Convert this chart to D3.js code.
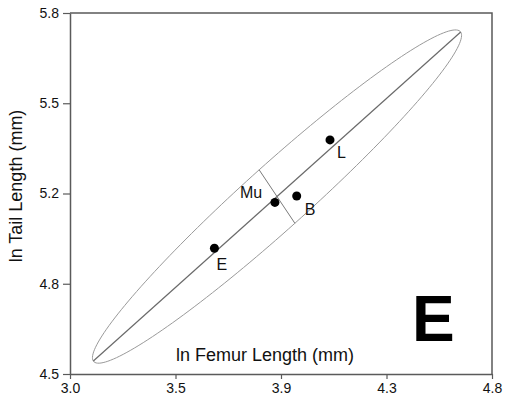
<!DOCTYPE html>
<html>
<head>
<meta charset="utf-8">
<script src="https://cdn.jsdelivr.net/npm/d3@7"></script>
<style>
  body { margin: 0; background: #fff; }
  svg { display: block; font-family: Arial, "Liberation Sans", sans-serif; }
</style>
</head>
<body>
<div id="chart"></div>
<script>
// Data
const groups = ['L', 'B', 'Mu', 'E'];
const femur = [4.109, 3.967, 3.874, 3.616];
const tail = [5.343, 5.141, 5.118, 4.953];

// Axis ticks
const xTickValues = [3.0, 3.45, 3.9, 4.35, 4.8];
const xTickLabels = ['3.0', '3.5', '3.9', '4.3', '4.8'];
const yTickValues = [4.5, 4.825, 5.15, 5.475, 5.8];
const yTickLabels = ['4.5', '4.8', '5.2', '5.5', '5.8'];

// Major axis line and ellipse (data units)
const lineStart = [3.0995, 4.547];
const lineEnd = [4.6665, 5.7316];
const ellipseCenter = [3.883, 5.139];
const ellipseMajor = [0.7835, 0.5923];
const ellipseMinor = [0.0762, -0.0962];

function createChart(containerId) {
  const container = d3.select(`#${containerId}`);
  container.html('');

  const width = 505;
  const height = 403;
  const margin = { top: 13, right: 13, bottom: 29, left: 70 };
  const w = width - margin.left - margin.right;
  const h = height - margin.top - margin.bottom;

  const x = d3.scaleLinear().domain([3.0, 4.8]).range([0, w]);
  const y = d3.scaleLinear().domain([4.5, 5.8]).range([h, 0]);

  const svg = container.append('svg')
    .attr('width', width)
    .attr('height', height);

  const g = svg.append('g')
    .attr('transform', `translate(${margin.left},${margin.top})`);

  const axisColor = '#5a5a5a';

  // Ellipse outline
  const steps = d3.range(0, 361, 2).map(a => a * Math.PI / 180);
  const ellipsePts = steps.map(t => [
    ellipseCenter[0] + ellipseMajor[0] * Math.cos(t) + ellipseMinor[0] * Math.sin(t),
    ellipseCenter[1] + ellipseMajor[1] * Math.cos(t) + ellipseMinor[1] * Math.sin(t)
  ]);
  g.append('path')
    .datum(ellipsePts)
    .attr('d', d3.line().x(d => x(d[0])).y(d => y(d[1])).curve(d3.curveCardinalClosed))
    .attr('fill', 'none')
    .attr('stroke', '#9a9a9a')
    .attr('stroke-width', 1);

  // Major axis
  g.append('line')
    .attr('x1', x(lineStart[0])).attr('y1', y(lineStart[1]))
    .attr('x2', x(lineEnd[0])).attr('y2', y(lineEnd[1]))
    .attr('stroke', '#6a6a6a')
    .attr('stroke-width', 1.2);

  // Minor axis
  g.append('line')
    .attr('x1', x(ellipseCenter[0] + ellipseMinor[0])).attr('y1', y(ellipseCenter[1] + ellipseMinor[1]))
    .attr('x2', x(ellipseCenter[0] - ellipseMinor[0])).attr('y2', y(ellipseCenter[1] - ellipseMinor[1]))
    .attr('stroke', '#7a7a7a')
    .attr('stroke-width', 1);

  // Points
  const points = groups.map((name, i) => ({ name, fx: femur[i], ty: tail[i] }));
  g.selectAll('.dot')
    .data(points)
    .enter()
    .append('circle')
    .attr('class', 'dot')
    .attr('cx', d => x(d.fx))
    .attr('cy', d => y(d.ty))
    .attr('r', 4.5)
    .attr('fill', '#000');

  const labelOffset = { L: [7, 18], B: [8, 19], Mu: [-35, -4], E: [2, 22] };
  g.selectAll('.lbl')
    .data(points)
    .enter()
    .append('text')
    .attr('class', 'lbl')
    .attr('x', d => x(d.fx) + labelOffset[d.name][0])
    .attr('y', d => y(d.ty) + labelOffset[d.name][1])
    .style('font-size', '16px')
    .attr('fill', '#111')
    .text(d => d.name);

  // Frame (top and right)
  g.append('path')
    .attr('d', `M0,0H${w}V${h}`)
    .attr('fill', 'none')
    .attr('stroke', axisColor)
    .attr('stroke-width', 1.5);

  // Axes
  const xAxis = g.append('g')
    .attr('transform', `translate(0,${h})`)
    .call(d3.axisBottom(x)
      .tickValues(xTickValues)
      .tickFormat((d, i) => xTickLabels[i])
      .tickSize(5)
      .tickSizeOuter(0)
      .tickPadding(4));

  const yAxis = g.append('g')
    .call(d3.axisLeft(y)
      .tickValues(yTickValues)
      .tickFormat((d, i) => yTickLabels[i])
      .tickSize(7)
      .tickSizeOuter(0)
      .tickPadding(4));

  [xAxis, yAxis].forEach(a => {
    a.select('.domain').attr('stroke', axisColor).attr('stroke-width', 1.5);
    a.selectAll('.tick line').attr('stroke', axisColor).attr('stroke-width', 1.2);
    a.selectAll('.tick text')
      .attr('fill', '#111')
      .style('font-size', '14px')
      .style('font-family', 'Arial, "Liberation Sans", sans-serif');
  });

  // Axis titles
  g.append('text')
    .attr('x', 106)
    .attr('y', 348)
    .style('font-size', '18px')
    .attr('fill', '#111')
    .text('ln Femur Length (mm)');

  svg.append('text')
    .attr('transform', 'translate(22,186) rotate(-90)')
    .attr('text-anchor', 'middle')
    .style('font-size', '18px')
    .attr('fill', '#111')
    .text('ln Tail Length (mm)');

  // Panel letter
  svg.append('text')
    .attr('x', 412)
    .attr('y', 341)
    .style('font-size', '64px')
    .style('font-weight', 'bold')
    .attr('fill', '#000')
    .text('E');
}

createChart('chart');
</script>
</body>
</html>
